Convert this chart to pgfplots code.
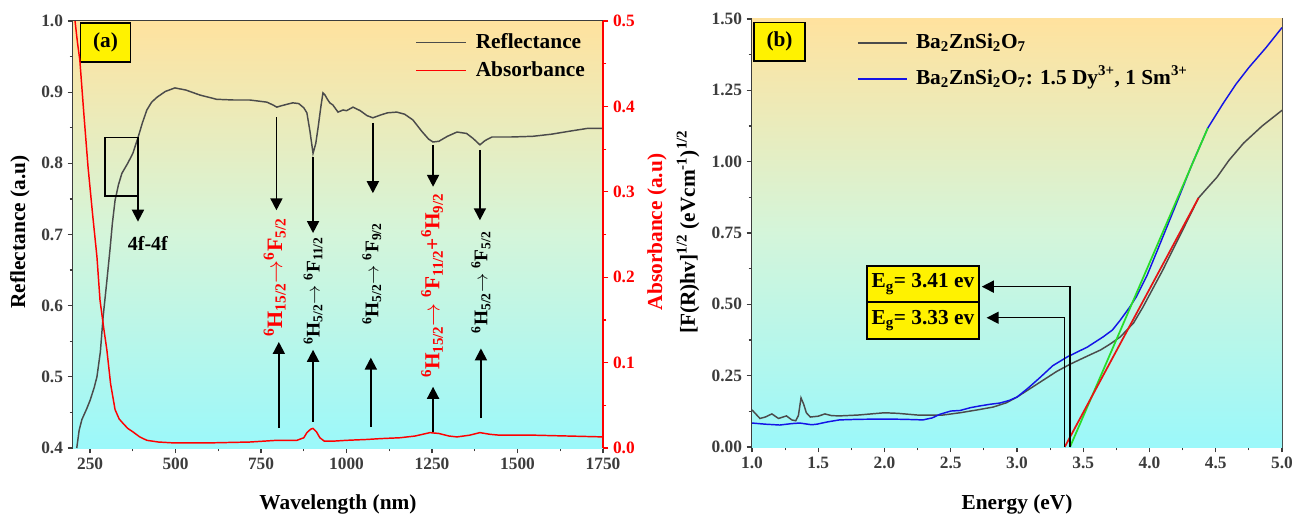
\documentclass[border=0pt]{standalone}
\usepackage{fontspec}
\setmainfont{Liberation Serif}
\usepackage{pgfplots}
\pgfplotsset{compat=1.18}
\usetikzlibrary{arrows.meta}

\definecolor{bgtop}{RGB}{255,226,158}
\definecolor{bgmid}{RGB}{212,245,218}
\definecolor{bgbot}{RGB}{155,248,250}
\definecolor{refl}{RGB}{75,75,75}
\definecolor{axgray}{RGB}{60,60,60}
\definecolor{eblue}{RGB}{20,20,230}
\definecolor{egreen}{RGB}{40,220,40}
\definecolor{ered}{RGB}{230,20,20}

\newcommand\fs[1]{\fontsize{#1}{#1}\selectfont}

\tikzset{myarr/.style={line width=1.4pt, -{Triangle[width=9pt,length=9pt]}}}

\pgfplotsset{
  base/.style={
    scale only axis,
    axis line style={axgray, line width=1pt},
    tick style={axgray, line width=0.9pt},
    tick align=outside,
    major tick length=4pt, minor tick length=2.5pt,
    tick label style={font=\fs{13}\bfseries, text=axgray},
    /pgf/number format/assume math mode=true,
    /pgf/number format/1000 sep={},
    scaled ticks=false,
    legend cell align=left,
  }
}

\begin{document}
\begin{tikzpicture}
\useasboundingbox (0,0) rectangle (970.5pt,386.25pt);

% ---------------- Panel (a): reflectance ----------------
\begin{axis}[base,
  at={(54.75pt,50.25pt)}, anchor=south west,
  width=397.5pt, height=320.25pt,
  xmin=200, xmax=1750, ymin=0.4, ymax=1.0,
  xtick={250,500,...,1750}, minor x tick num=1,
  ytick={0.4,0.5,...,1.0}, minor y tick num=1,
  xtick pos=bottom, ytick pos=left,
  yticklabel style={/pgf/number format/.cd, fixed, fixed zerofill, precision=1},
]
\path[top color=bgtop, bottom color=bgbot, middle color=bgmid] (rel axis cs:0,0) rectangle (rel axis cs:1,1);
\addplot[refl, line width=1.1pt] coordinates {
(211,0.40) (218,0.425) (226,0.44) (240,0.455) (250,0.467) (262,0.485) (270,0.50)
(280,0.535) (288,0.584) (298,0.63) (308,0.678) (315,0.715) (323,0.748) (333,0.770)
(343,0.786) (360,0.800) (375,0.814) (390,0.836) (403,0.857) (416,0.875) (430,0.886)
(446,0.893) (470,0.901) (498,0.906) (530,0.903) (571,0.896) (620,0.890) (670,0.889)
(717,0.889) (767,0.886) (785,0.882) (796,0.879) (810,0.881) (826,0.883) (843,0.885)
(860,0.884) (875,0.878) (884,0.871) (893,0.845) (902,0.814) (910,0.828) (917,0.851)
(925,0.880) (931,0.899) (937,0.896) (944,0.890) (951,0.885) (960,0.882) (975,0.872)
(990,0.875) (1000,0.874) (1019,0.879) (1040,0.874) (1060,0.867) (1077,0.864)
(1100,0.868) (1120,0.871) (1147,0.872) (1170,0.869) (1194,0.861) (1220,0.845)
(1240,0.834) (1253,0.830) (1270,0.831) (1295,0.838) (1323,0.844) (1351,0.842)
(1370,0.835) (1390,0.826) (1405,0.832) (1425,0.837) (1480,0.837) (1545,0.838)
(1600,0.841) (1650,0.845) (1703,0.849) (1750,0.849)
};
% 4f-4f box and arrow
\draw[black, line width=1.1pt] (axis cs:294,0.754) rectangle (axis cs:390,0.836);
\draw[myarr] (axis cs:390,0.754) -- (axis cs:390,0.718);
\node[font=\fs{15}\bfseries] at (axis cs:419,0.688) {4f-4f};
% down arrows
\draw[myarr] (axis cs:795,0.865) -- (axis cs:795,0.734);
\draw[myarr] (axis cs:902,0.809) -- (axis cs:902,0.702);
\draw[myarr] (axis cs:1077,0.857) -- (axis cs:1077,0.758);
\draw[myarr] (axis cs:1253,0.826) -- (axis cs:1253,0.767);
\draw[myarr] (axis cs:1390,0.819) -- (axis cs:1390,0.720);
% up arrows
\draw[myarr] (axis cs:802,0.428) -- (axis cs:802,0.549);
\draw[myarr] (axis cs:902,0.437) -- (axis cs:902,0.538);
\draw[myarr] (axis cs:1071,0.430) -- (axis cs:1071,0.527);
\draw[myarr] (axis cs:1253,0.422) -- (axis cs:1253,0.486);
\draw[myarr] (axis cs:1393,0.442) -- (axis cs:1393,0.540);
% transition labels
\node[rotate=90, anchor=west, inner sep=0pt, font=\fs{16.5}\bfseries, text=red] at (axis cs:790,0.556)
  {\textsuperscript{6}H\textsubscript{15/2}$\rightarrow$\textsuperscript{6}F\textsubscript{5/2}};
\node[rotate=90, anchor=west, inner sep=0pt, font=\fs{14.5}\bfseries] at (axis cs:902,0.545)
  {\textsuperscript{6}H\textsubscript{5/2}$\rightarrow$ \textsuperscript{6}F\textsubscript{11/2}};
\node[rotate=90, anchor=west, inner sep=0pt, font=\fs{14.5}\bfseries] at (axis cs:1074,0.573)
  {\textsuperscript{6}H\textsubscript{5/2}$\rightarrow$ \textsuperscript{6}F\textsubscript{9/2}};
\node[rotate=90, anchor=west, inner sep=0pt, font=\fs{16}\bfseries, text=red] at (axis cs:1250,0.498)
  {\textsuperscript{6}H\textsubscript{15/2}$\rightarrow$ \textsuperscript{6}F\textsubscript{11/2}+\textsuperscript{6}H\textsubscript{9/2}};
\node[rotate=90, anchor=west, inner sep=0pt, font=\fs{14.5}\bfseries] at (axis cs:1393,0.561)
  {\textsuperscript{6}H\textsubscript{5/2}$\rightarrow$ \textsuperscript{6}F\textsubscript{5/2}};
% panel tag
\node[draw=black, line width=1.3pt, fill=yellow, minimum width=37.5pt, minimum height=29pt, inner sep=0pt,
  anchor=north west, font=\fs{16}\bfseries, xshift=5pt, yshift=-1pt] at (rel axis cs:0,1) {(a)};
\end{axis}

% ---------------- Panel (a): absorbance (right axis) ----------------
\begin{axis}[base,
  at={(54.75pt,50.25pt)}, anchor=south west,
  width=397.5pt, height=320.25pt,
  xmin=200, xmax=1750, ymin=0, ymax=0.5,
  axis x line=none, axis y line*=right,
  axis line style={red, line width=1pt},
  tick style={red, line width=0.9pt},
  ytick={0,0.1,...,0.5}, minor y tick num=1,
  yticklabel style={text=red, /pgf/number format/.cd, fixed, fixed zerofill, precision=1},
  legend style={at={(rel axis cs:0.646,0.978)}, anchor=north west, draw=none, fill=none,
    inner sep=0pt, font=\fs{16}\bfseries, row sep=3pt,
    nodes={text height=11pt, text depth=3pt, inner sep=2pt},
    /tikz/every odd column/.append style={column sep=5pt}},
  legend image code/.code={\draw[#1] (0pt,0pt) -- (37pt,0pt);},
]
\addlegendimage{refl, line width=1.1pt}
\addlegendentry{Reflectance}
\addplot[red, line width=1.1pt] coordinates {
(204,0.51) (206,0.50) (213,0.475) (220,0.454) (232,0.39) (244,0.329) (257,0.275)
(270,0.224) (279,0.173) (290,0.14) (299,0.115) (310,0.075) (323,0.045) (335,0.034)
(346,0.029) (360,0.023) (375,0.019) (395,0.013) (416,0.009) (450,0.007) (493,0.006)
(600,0.006) (717,0.007) (796,0.009) (855,0.009) (875,0.012) (884,0.018) (895,0.022)
(902,0.023) (912,0.019) (922,0.012) (935,0.008) (960,0.008) (1000,0.009) (1059,0.010)
(1100,0.011) (1156,0.012) (1200,0.014) (1244,0.018) (1270,0.017) (1300,0.014)
(1323,0.013) (1360,0.015) (1390,0.018) (1420,0.016) (1448,0.015) (1550,0.015)
(1650,0.014) (1750,0.013)
};
\addlegendentry{Absorbance}
\end{axis}

% ---------------- Panel (b) ----------------
\begin{axis}[base,
  at={(564pt,51pt)}, anchor=south west,
  width=397.5pt, height=321pt,
  xmin=1, xmax=5, ymin=0, ymax=1.5,
  xtick={1,1.5,...,5}, minor x tick num=1,
  ytick={0,0.25,...,1.5}, minor y tick num=1,
  xtick pos=bottom, ytick pos=left,
  xticklabel style={/pgf/number format/.cd, fixed, fixed zerofill, precision=1},
  yticklabel style={/pgf/number format/.cd, fixed, fixed zerofill, precision=2},
  legend style={at={(rel axis cs:0.198,0.979)}, anchor=north west, draw=none, fill=none,
    inner sep=0pt, font=\fs{16}\bfseries, row sep=5pt,
    nodes={text height=13pt, text depth=5pt, inner sep=2pt},
    /tikz/every odd column/.append style={column sep=4pt}},
  legend image code/.code={\draw[#1] (0pt,0pt) -- (37pt,0pt);},
]
\path[top color=bgtop, bottom color=bgbot, middle color=bgmid] (rel axis cs:0,0) rectangle (rel axis cs:1,1);
\addplot[refl, line width=1.1pt] coordinates {
(1.00,0.13) (1.03,0.115) (1.06,0.10) (1.10,0.105) (1.15,0.116) (1.20,0.10) (1.26,0.109)
(1.30,0.095) (1.33,0.092) (1.35,0.11) (1.37,0.172) (1.39,0.15) (1.41,0.12) (1.44,0.105)
(1.50,0.108) (1.55,0.116) (1.60,0.110) (1.66,0.109) (1.80,0.112) (2.00,0.12) (2.10,0.118)
(2.25,0.112) (2.44,0.112) (2.57,0.12) (2.70,0.13) (2.82,0.14) (2.92,0.155) (3.00,0.175)
(3.10,0.205) (3.20,0.235) (3.30,0.265) (3.40,0.29) (3.50,0.312) (3.63,0.34) (3.70,0.36)
(3.78,0.386) (3.88,0.435) (3.95,0.49) (4.10,0.62) (4.25,0.76) (4.37,0.873) (4.45,0.915)
(4.51,0.946) (4.60,1.005) (4.71,1.065) (4.85,1.125) (5.00,1.18)
};
\addlegendentry{Ba\textsubscript{2}ZnSi\textsubscript{2}O\textsubscript{7}}
\addplot[eblue, line width=1.1pt] coordinates {
(1.00,0.084) (1.10,0.080) (1.21,0.077) (1.30,0.082) (1.36,0.084) (1.45,0.078) (1.49,0.080)
(1.57,0.088) (1.66,0.095) (1.80,0.097) (2.00,0.098) (2.15,0.097) (2.29,0.095) (2.36,0.102)
(2.42,0.115) (2.50,0.126) (2.57,0.128) (2.65,0.138) (2.72,0.144) (2.80,0.15) (2.87,0.154)
(2.94,0.163) (3.00,0.175) (3.08,0.205) (3.17,0.242) (3.27,0.285) (3.38,0.316) (3.53,0.35)
(3.65,0.386) (3.72,0.41) (3.78,0.445) (3.85,0.49) (3.90,0.526) (3.98,0.60) (4.06,0.69)
(4.20,0.85) (4.32,0.99) (4.44,1.118) (4.55,1.20) (4.65,1.27) (4.75,1.33) (4.88,1.40)
(5.00,1.47)
};
\addlegendentry{Ba\textsubscript{2}ZnSi\textsubscript{2}O\textsubscript{7}: 1.5 Dy\textsuperscript{3+}, 1 Sm\textsuperscript{3+}}
\addplot[egreen, line width=1.3pt, forget plot] coordinates {(3.40,0) (4.44,1.118)};
\addplot[ered, line width=1.3pt, forget plot] coordinates {(3.36,0) (4.37,0.873)};
% Eg arrows
\draw[black, line width=1.1pt, -{Triangle[width=9pt,length=9pt]}] (axis cs:3.40,0) -- (axis cs:3.40,0.562) -- (axis cs:2.734,0.562);
\draw[black, line width=1.1pt, -{Triangle[width=9pt,length=9pt]}] (axis cs:3.357,0) -- (axis cs:3.357,0.453) -- (axis cs:2.771,0.453);
\node[draw=black, line width=1.1pt, fill=yellow, minimum width=84pt, minimum height=27pt, inner sep=0pt,
  font=\fs{16}\bfseries] at (axis cs:2.29,0.571) {E\textsubscript{g}= 3.41 ev};
\node[draw=black, line width=1.1pt, fill=yellow, minimum width=84pt, minimum height=27.75pt, inner sep=0pt,
  font=\fs{16}\bfseries] at (axis cs:2.29,0.4435) {E\textsubscript{g}= 3.33 ev};
\node[draw=black, line width=1.3pt, fill=yellow, minimum width=38pt, minimum height=29pt, inner sep=0pt,
  anchor=north west, font=\fs{16}\bfseries, xshift=1pt, yshift=-2pt] at (rel axis cs:0,1) {(b)};
\end{axis}

% axis labels
\node[rotate=90, font=\fs{16}\bfseries] at (15pt,212.25pt) {Reflectance (a.u)};
\node[font=\fs{16}\bfseries] at (253.5pt,8pt) {Wavelength (nm)};
\node[rotate=90, font=\fs{16}\bfseries, text=red] at (492.75pt,212.25pt) {Absorbance (a.u)};
\node[rotate=90, font=\fs{16}\bfseries] at (516pt,212.25pt) {[F(R)hv]\textsuperscript{1/2} (eVcm\textsuperscript{-1})\textsuperscript{1/2}};
\node[font=\fs{16}\bfseries] at (762.75pt,8pt) {Energy (eV)};
\end{tikzpicture}
\end{document}
